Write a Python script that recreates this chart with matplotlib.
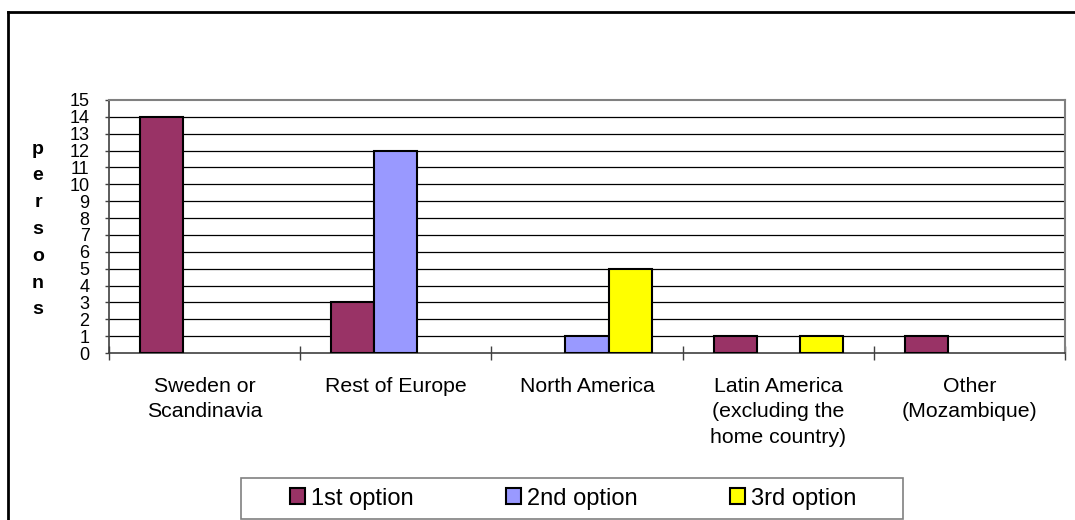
import matplotlib
matplotlib.use("Agg")
import matplotlib.pyplot as plt
from matplotlib.lines import Line2D
from matplotlib.patches import Rectangle
import numpy as np

plt.rcParams['font.family'] = ['Liberation Sans', 'DejaVu Sans']

categories = ["Sweden or\nScandinavia", "Rest of Europe", "North America",
              "Latin America\n(excluding the\nhome country)", "Other\n(Mozambique)"]
series_names = ["1st option", "2nd option", "3rd option"]
first_option = [14, 3, 0, 1, 1]
second_option = [0, 12, 1, 0, 0]
third_option = [0, 0, 5, 1, 0]
series_values = [first_option, second_option, third_option]
series_colors = ["#993366", "#9999FF", "#FFFF00"]
y_ticks = list(range(0, 16))

W, H = 1075, 520
fig = plt.figure(figsize=(W / 100, H / 100), dpi=100)
ax = fig.add_axes([109 / W, 1 - 353 / H, (1065 - 109) / W, (353 - 100) / H])

x = np.arange(len(categories))
width = 0.225
for i, (name, vals, col) in enumerate(zip(series_names, series_values, series_colors)):
    offs = (i - 1) * width
    xs = [xx + offs for xx, v in zip(x, vals) if v > 0]
    hs = [v for v in vals if v > 0]
    ax.bar(xs, hs, width=width, color=col, edgecolor="black", linewidth=1.5,
           label=name, zorder=3)

ax.set_xlim(-0.5, len(categories) - 0.5)
ax.set_ylim(0, 15)

# horizontal gridlines
for yv in y_ticks[1:-1]:
    ax.axhline(yv, color="black", linewidth=0.9, zorder=1)

ax.set_yticks(y_ticks)
ax.set_yticklabels([str(v) for v in y_ticks], fontsize=13)
ax.tick_params(axis="y", direction="out", length=3, width=1, color="#404040", pad=11)

# boundary ticks between categories, labels centred under each group
ax.set_xticks(np.arange(-0.5, len(categories) + 0.5, 1.0))
ax.set_xticklabels([])
ax.tick_params(axis="x", which="major", direction="inout", length=9.5, width=1, color="#404040")
ax.set_xticks(x, minor=True)
ax.set_xticklabels(categories, minor=True, fontsize=15.3, linespacing=1.45)
ax.tick_params(axis="x", which="minor", length=0, pad=17)

for s in ["top", "right"]:
    ax.spines[s].set_color("#808080")
    ax.spines[s].set_linewidth(1.5)
for s in ["left", "bottom"]:
    ax.spines[s].set_color("#404040")
    ax.spines[s].set_linewidth(1.2)

# stacked vertical axis label
fig.text(38 / W, 1 - 229.5 / H, "\n".join("persons"), ha="center", va="center",
         fontsize=14, fontweight="bold", linespacing=1.75)

# chart area outline (left and top edges visible)
fig.add_artist(Line2D([8 / W, 8 / W], [0, 1 - 12 / H], transform=fig.transFigure,
                      color="black", linewidth=2))
fig.add_artist(Line2D([8 / W, 1], [1 - 12 / H, 1 - 12 / H], transform=fig.transFigure,
                      color="black", linewidth=2))

# legend box
fig.add_artist(Rectangle((241 / W, 1 - 519 / H), (903 - 241) / W, (519 - 478) / H,
                         transform=fig.transFigure, facecolor="white",
                         edgecolor="#808080", linewidth=1.2))
leg = fig.legend(loc="center", bbox_to_anchor=((288 + 858) / 2 / W, 1 - 498.5 / H),
                 ncol=3, fontsize=17, frameon=False, borderaxespad=0, borderpad=0,
                 handlelength=0.63, handleheight=0.63, handletextpad=0.25,
                 columnspacing=3.93)

fig.savefig("out.png", dpi=100)
